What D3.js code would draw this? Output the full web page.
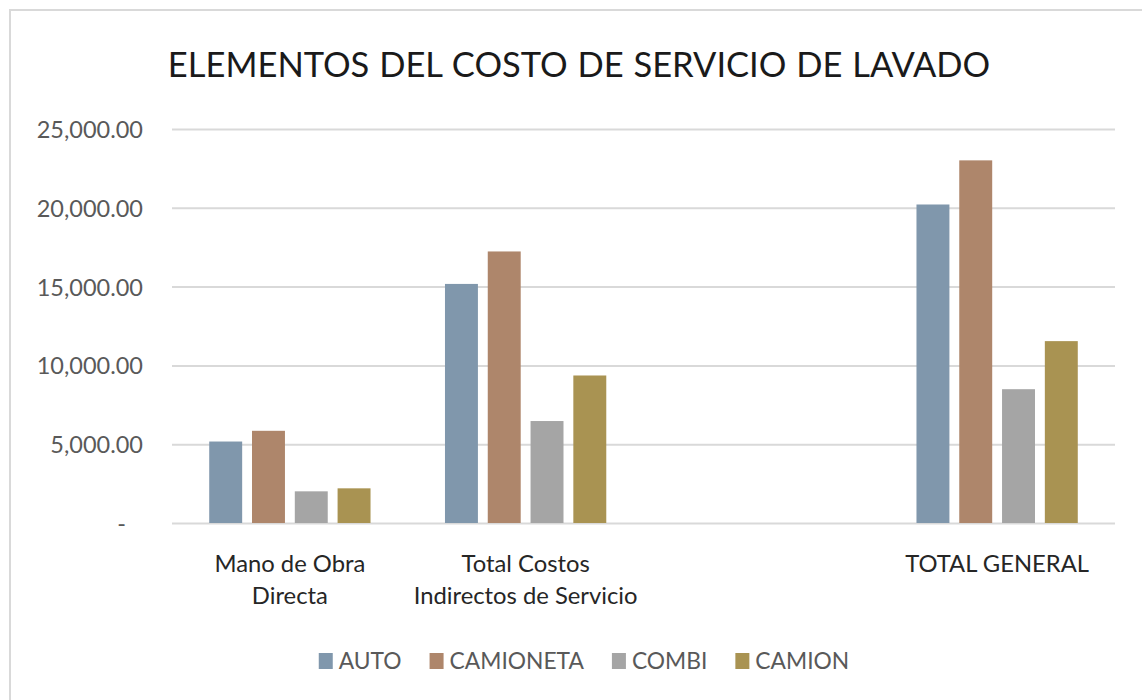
<!DOCTYPE html>
<html>
<head>
<meta charset="utf-8">
<script src="https://cdn.jsdelivr.net/npm/d3@7"></script>
<style>
  body { margin: 0; background: #fff; }
  text { font-family: Lato, "Open Sans", sans-serif; }
</style>
</head>
<body>
<svg id="chart" width="1142" height="700"></svg>
<script>
// categories (third slot is empty in the original sheet)
const categories = ["Mano de Obra Directa", "Total Costos Indirectos de Servicio", "", "TOTAL GENERAL"]
const categoryLines = [["Mano de Obra", "Directa"], ["Total Costos", "Indirectos de Servicio"], [], ["TOTAL GENERAL"]]

const series = ["AUTO", "CAMIONETA", "COMBI", "CAMION"]
const colors = ["#8097ac", "#ae866b", "#a5a5a5", "#a99352"]

const autoValues = [5170, 15170, null, 20210]
const camionetaValues = [5850, 17230, null, 23010]
const combiValues = [2010, 6470, null, 8490]
const camionValues = [2200, 9360, null, 11540]

const yTicks = [0, 5000, 10000, 15000, 20000, 25000]
const title = "ELEMENTOS DEL COSTO DE SERVICIO DE LAVADO"

render()

function render() {
  const width = 1142
  const height = 700
  const marginLeft = 172
  const marginRight = 27
  const plotTop = 129
  const plotBottom = 523

  const svg = d3.select("#chart")
  const valuesBySeries = [autoValues, camionetaValues, combiValues, camionValues]

  svg.append("rect")
      .attr("width", width)
      .attr("height", height)
      .attr("fill", "#fff")

  // chart area frame (only top and left visible)
  svg.append("path")
      .attr("d", `M10,${height} V10 H${width}`)
      .attr("fill", "none")
      .attr("stroke", "#d9d9d9")
      .attr("stroke-width", 2)

  svg.append("text")
      .text(title)
      .attr("x", 579)
      .attr("y", 77)
      .attr("text-anchor", "middle")
      .attr("font-size", 34.5)
      .attr("word-spacing", 1)
      .attr("fill", "#1a1a1a")

  const xScale = d3.scaleBand()
      .domain(categories)
      .range([marginLeft, width - marginRight])
      .padding(0)

  const xInner = d3.scaleBand()
      .domain(series)
      .range([0, xScale.bandwidth()])
      .paddingInner(0.23)
      .paddingOuter(0.87)

  const yScale = d3.scaleLinear()
      .domain([0, 25000])
      .range([plotBottom, plotTop])

  // gridlines + y labels
  const yAxis = svg.append("g")
      .attr("transform", `translate(${marginLeft},0)`)
      .call(d3.axisLeft(yScale)
          .tickValues(yTicks)
          .tickSize(-(width - marginLeft - marginRight))
          .tickPadding(29)
          .tickFormat(d => d === 0 ? "-" : d3.format(",.2f")(d)))
  yAxis.select(".domain").remove()
  yAxis.selectAll("line")
      .attr("stroke", "#d9d9d9")
      .attr("stroke-width", 2)
  yAxis.selectAll("text")
      .attr("font-size", 23.5)
      .attr("fill", "#595959")
      .attr("dy", "0.36em")
      .attr("dx", d => d === 0 ? -17 : 0)

  // bars
  const groups = svg.append("g")
      .selectAll("g")
      .data(series)
      .join("g")
      .attr("fill", (d, i) => colors[i])

  groups.selectAll("rect")
      .data((s, i) => categories.map((c, j) => ({series: s, category: c, value: valuesBySeries[i][j]}))
          .filter(d => d.value != null))
      .join("rect")
      .attr("x", d => xScale(d.category) + xInner(d.series))
      .attr("width", xInner.bandwidth())
      .attr("y", d => yScale(d.value))
      .attr("height", d => yScale(0) - yScale(d.value))

  // category labels
  const catLabels = svg.append("g")
      .selectAll("text")
      .data(categories)
      .join("text")
      .attr("x", d => xScale(d) + xScale.bandwidth() / 2)
      .attr("y", 572)
      .attr("text-anchor", "middle")
      .attr("font-size", 23.8)
      .attr("fill", "#262626")

  catLabels.selectAll("tspan")
      .data((d, i) => categoryLines[i])
      .join("tspan")
      .attr("x", function () { return this.parentNode.getAttribute("x") })
      .attr("dy", (d, i) => i === 0 ? 0 : 32)
      .text(d => d)

  // legend
  const legend = svg.append("g")
  let cursor = 0
  series.forEach((s, i) => {
    const item = legend.append("g").attr("transform", `translate(${cursor},0)`)
    item.append("rect")
        .attr("x", 0)
        .attr("y", -16)
        .attr("width", 14)
        .attr("height", 16)
        .attr("fill", colors[i])
    const t = item.append("text")
        .text(s)
        .attr("x", 20)
        .attr("y", 0)
        .attr("font-size", 22.8)
        .attr("fill", "#595959")
    cursor += 20 + t.node().getComputedTextLength() + 28
  })
  const legendWidth = cursor - 28
  legend.attr("transform", `translate(${584 - legendWidth / 2},669)`)
}
</script>
</body>
</html>
